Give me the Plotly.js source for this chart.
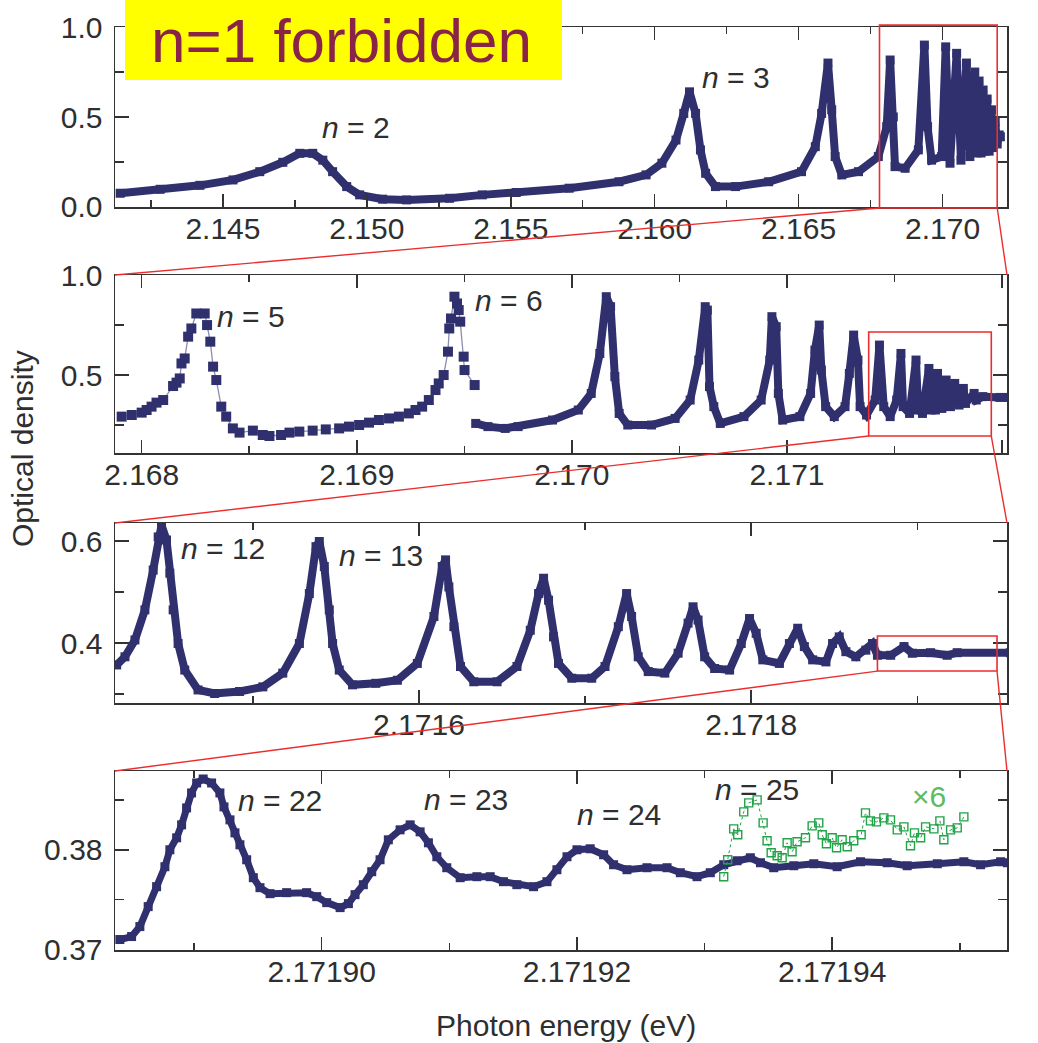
<!DOCTYPE html>
<html><head><meta charset="utf-8">
<script src="https://cdn.plot.ly/plotly-3.0.1.min.js"></script>
<style>html,body{margin:0;padding:0;background:#fff}#chart{width:1038px;height:1043px}</style>
</head><body><div id="chart"></div>
<script>
// ---------- data ----------
const p1Energy = [2.14143,2.14282,2.1442,2.14535,2.14628,2.14708,2.14767,2.14812,2.14847,2.14881,2.1493,2.14975,2.15055,2.15138,2.15287,2.15401,2.15519,2.15703,2.15876,2.1597,2.16025,2.16074,2.16101,2.16121,2.16142,2.16159,2.16177,2.16211,2.16281,2.16396,2.1651,2.16558,2.1658,2.16602,2.16615,2.16627,2.1665,2.16708,2.16777,2.16806,2.16818,2.16829,2.16835,2.1687,2.16916,2.16937,2.16948,2.16962,2.16997,2.17011,2.17026,2.17049,2.17064,2.17083,2.17095,2.17112,2.1712,2.17127,2.17134,2.17141,2.17148,2.17155,2.17162,2.1717,2.17176,2.17183,2.1719,2.17197,2.17201];
const p1OD = [0.076,0.098,0.12,0.15,0.196,0.248,0.298,0.298,0.26,0.196,0.113,0.067,0.043,0.039,0.048,0.067,0.08,0.104,0.14,0.178,0.243,0.372,0.52,0.64,0.52,0.317,0.187,0.113,0.113,0.14,0.196,0.335,0.52,0.80,0.54,0.28,0.178,0.196,0.28,0.446,0.817,0.50,0.224,0.215,0.317,0.90,0.446,0.26,0.28,0.89,0.243,0.854,0.26,0.80,0.28,0.75,0.30,0.70,0.30,0.65,0.31,0.60,0.31,0.54,0.33,0.47,0.35,0.40,0.39];

const p2SparseEnergy = [2.167907,2.167954,2.168000,2.168023,2.168046,2.168069,2.168100,2.168146,2.168162,2.168177,2.168185,2.168200,2.168216,2.168231,2.168254,2.168293,2.168304,2.168319,2.168332,2.168347,2.168370,2.168393,2.168424,2.168455,2.168517,2.168563,2.168594,2.168648,2.168687,2.168733,2.168795,2.168856,2.168918,2.168964,2.169011,2.169057,2.169103,2.169150,2.169196,2.169242,2.169273,2.169304,2.169335,2.169366,2.169381,2.169404,2.169424,2.169430,2.169438,2.169454,2.169466,2.169474,2.169481,2.169497,2.169501,2.169548];
const p2SparseOD = [0.292,0.30,0.312,0.325,0.342,0.362,0.375,0.445,0.462,0.483,0.558,0.583,0.692,0.733,0.808,0.808,0.75,0.667,0.542,0.475,0.342,0.292,0.233,0.212,0.222,0.20,0.195,0.20,0.212,0.217,0.222,0.228,0.233,0.242,0.25,0.262,0.275,0.283,0.292,0.308,0.325,0.342,0.375,0.425,0.458,0.50,0.617,0.733,0.783,0.892,0.858,0.825,0.767,0.592,0.525,0.45];

const p2DenseEnergy = [2.169553,2.16961,2.16969,2.16975,2.16991,2.17003,2.17009,2.17013,2.17016,2.17018,2.1702,2.17022,2.17026,2.17037,2.17048,2.17055,2.17059,2.17062,2.17063,2.17064,2.17066,2.17069,2.1708,2.17088,2.17092,2.17093,2.17095,2.17096,2.17098,2.17106,2.17111,2.17113,2.17115,2.17116,2.17118,2.17122,2.17127,2.17129,2.17131,2.17133,2.17134,2.17137,2.17141,2.17143,2.17145,2.17148,2.17151,2.17153,2.17154,2.17157,2.1716,2.17161,2.17163,2.17166,2.17167,2.17169,2.1717,2.17172,2.17174,2.17176,2.17178,2.1718,2.17182,2.17183,2.17187,2.17188,2.17191,2.17199,2.17203];
const p2DenseOD = [0.258,0.242,0.233,0.242,0.275,0.325,0.408,0.608,0.892,0.842,0.492,0.308,0.25,0.25,0.283,0.375,0.575,0.842,0.825,0.442,0.342,0.258,0.292,0.375,0.575,0.792,0.742,0.408,0.275,0.292,0.408,0.625,0.75,0.525,0.342,0.292,0.342,0.508,0.70,0.575,0.342,0.30,0.375,0.65,0.342,0.292,0.375,0.608,0.342,0.308,0.575,0.325,0.308,0.533,0.325,0.325,0.508,0.333,0.475,0.342,0.458,0.35,0.433,0.358,0.408,0.375,0.392,0.388,0.388];

const p3Energy = [2.171418,2.171423,2.171429,2.171435,2.17144,2.171443,2.171445,2.171448,2.17145,2.171452,2.171455,2.171459,2.171467,2.171477,2.171492,2.171506,2.171518,2.171528,2.171534,2.171538,2.17154,2.171543,2.171546,2.171548,2.171552,2.17156,2.171574,2.171587,2.171599,2.171609,2.171614,2.171616,2.171618,2.171621,2.171625,2.171633,2.171647,2.171659,2.171667,2.171672,2.171675,2.171678,2.171681,2.171684,2.171692,2.171704,2.171712,2.17172,2.171725,2.171728,2.171732,2.171738,2.171748,2.171756,2.171762,2.171765,2.171768,2.171772,2.171778,2.171787,2.171794,2.171799,2.171803,2.171807,2.171817,2.171823,2.171828,2.171832,2.171837,2.171845,2.171849,2.171853,2.171857,2.171863,2.171869,2.171873,2.171876,2.171884,2.171892,2.171897,2.171908,2.171918,2.171924,2.171956];
const p3OD = [0.357,0.373,0.406,0.465,0.543,0.608,0.631,0.602,0.537,0.465,0.399,0.347,0.308,0.301,0.305,0.314,0.341,0.399,0.497,0.589,0.599,0.55,0.465,0.399,0.347,0.318,0.321,0.327,0.36,0.452,0.55,0.563,0.51,0.432,0.354,0.324,0.324,0.354,0.425,0.497,0.527,0.484,0.412,0.36,0.331,0.331,0.354,0.432,0.497,0.452,0.373,0.344,0.341,0.38,0.439,0.471,0.445,0.373,0.35,0.347,0.399,0.448,0.419,0.367,0.36,0.399,0.429,0.393,0.367,0.363,0.399,0.412,0.383,0.373,0.386,0.399,0.376,0.376,0.393,0.38,0.381,0.376,0.381,0.381];

const p4Energy = [2.17188418,2.1718851,2.17188575,2.1718864,2.17188706,2.17188771,2.1718881,2.17188863,2.17188902,2.17188941,2.1718898,2.1718902,2.17189071,2.17189137,2.17189202,2.17189234,2.17189281,2.1718932,2.17189359,2.17189412,2.17189464,2.17189516,2.17189595,2.17189725,2.17189882,2.17189961,2.17190039,2.17190144,2.17190209,2.17190261,2.17190326,2.17190392,2.17190457,2.17190522,2.17190614,2.17190693,2.17190771,2.17190836,2.17190902,2.1719098,2.17191085,2.17191216,2.1719132,2.17191424,2.17191529,2.1719166,2.17191765,2.17191843,2.17191922,2.17192,2.17192104,2.17192209,2.17192287,2.17192392,2.17192549,2.17192706,2.1719281,2.17192941,2.17193045,2.1719315,2.17193255,2.17193359,2.17193438,2.17193542,2.17193699,2.17193856,2.17194039,2.17194222,2.17194431,2.17194588,2.17194824,2.17195032,2.17195163,2.1719532,2.17195373];
const p4OD = [0.371,0.3713,0.3723,0.3743,0.3763,0.3783,0.38,0.3812,0.3825,0.3842,0.3857,0.3867,0.3871,0.3867,0.3857,0.3843,0.383,0.3817,0.3805,0.379,0.3772,0.3762,0.3756,0.3757,0.3757,0.3753,0.3747,0.3742,0.3746,0.3755,0.3765,0.3778,0.379,0.381,0.382,0.3825,0.3818,0.3807,0.3793,0.3782,0.3772,0.3773,0.3773,0.3768,0.3765,0.3763,0.3768,0.378,0.3793,0.38,0.3801,0.3795,0.3785,0.378,0.3782,0.3782,0.3777,0.3773,0.3777,0.3785,0.3789,0.3792,0.3787,0.3782,0.3784,0.3786,0.3783,0.3788,0.3787,0.3784,0.3786,0.3788,0.3785,0.3788,0.3787];

const p4x6Energy = [2.1719315,2.17193181,2.17193228,2.1719326,2.17193307,2.17193346,2.17193412,2.17193459,2.1719349,2.17193522,2.17193569,2.17193608,2.17193647,2.17193686,2.17193725,2.17193791,2.17193843,2.17193895,2.17193922,2.17193955,2.17194,2.17194034,2.17194078,2.17194118,2.17194169,2.17194227,2.17194261,2.171943,2.17194347,2.17194405,2.17194457,2.1719451,2.17194562,2.17194614,2.17194645,2.17194693,2.17194732,2.17194797,2.17194844,2.17194875,2.17194928,2.1719498,2.17195032];
const p4x6OD = [0.3773,0.379,0.3821,0.3815,0.3838,0.3847,0.385,0.3827,0.3809,0.3797,0.3794,0.3792,0.3807,0.3798,0.3808,0.3812,0.3824,0.3827,0.3815,0.3806,0.3812,0.3802,0.381,0.3803,0.3809,0.3815,0.3837,0.3829,0.3828,0.3832,0.383,0.382,0.3823,0.3804,0.3817,0.3812,0.3823,0.3821,0.3829,0.381,0.382,0.3822,0.3833];

// tick values / labels
const x1TickVals = [2.145,2.150,2.155,2.160,2.165,2.170];
const x1TickText = ['2.145','2.150','2.155','2.160','2.165','2.170'];
const x1MinorVals = [2.1425,2.1475,2.1525,2.1575,2.1625,2.1675,2.1725];
const x2TickVals = [2.168,2.169,2.170,2.171,2.172];
const x2TickText = ['2.168','2.169','2.170','2.171','2.172'];
const x2MinorVals = [2.1685,2.1695,2.1705,2.1715];
const x3TickVals = [2.1716,2.1718];
const x3TickText = ['2.1716','2.1718'];
const x3MinorVals = [2.1715,2.1717,2.1719];
const x4TickVals = [2.1719,2.17192,2.17194];
const x4TickText = ['2.17190','2.17192','2.17194'];
const x4MinorVals = [2.17189,2.17191,2.17193,2.17195];
const y1TickVals = [0,0.5,1.0]; const y1TickText = ['0.0','0.5','1.0']; const y1MinorVals = [0.25,0.75];
const y2TickVals = [0.5,1.0]; const y2TickText = ['0.5','1.0']; const y2MinorVals = [0.25,0.75];
const y3TickVals = [0.4,0.6]; const y3TickText = ['0.4','0.6']; const y3MinorVals = [0.3,0.5];
const y4TickVals = [0.37,0.38]; const y4TickText = ['0.37','0.38']; const y4MinorVals = [0.375,0.385];

const peakLabels = [
  {panel:0, text:'<i>n</i> = 2', x:2.14964, y:0.444},
  {panel:0, text:'<i>n</i> = 3', x:2.16282, y:0.722},
  {panel:1, text:'<i>n</i> = 5', x:2.16851, y:0.795},
  {panel:1, text:'<i>n</i> = 6', x:2.16971, y:0.875},
  {panel:2, text:'<i>n</i> = 12', x:2.171482, y:0.586},
  {panel:2, text:'<i>n</i> = 13', x:2.171577, y:0.571},
  {panel:3, text:'<i>n</i> = 22', x:2.17189673, y:0.3849},
  {panel:3, text:'<i>n</i> = 23', x:2.17191132, y:0.385},
  {panel:3, text:'<i>n</i> = 24', x:2.17192332, y:0.3835},
  {panel:3, text:'<i>n</i> = 25', x:2.17193414, y:0.386}
];

// ---------- layout geometry ----------
const W = 1038, H = 1043;
const X_DOMAIN = [115/W, 1007/W];
const Y_DOMAINS = [[1-207/H,1-27/H],[1-453/H,1-275/H],[1-703/H,1-523/H],[1-950/H,1-771/H]];
const X_RANGES = [[2.14125,2.17224],[2.167876,2.172023],[2.171417,2.171954],[2.1718838,2.1719537]];
const Y_RANGES = [[-0.0005,1.0005],[0.11,1.0005],[0.2824,0.6353],[0.36995,0.3879]];
const ZOOM_BOXES = [
  {panel:0, x:[2.16781,2.1719], y:[-0.006,1.011]},
  {panel:1, x:[2.17138,2.17195], y:[0.195,0.715]},
  {panel:2, x:[2.171876,2.171948], y:[0.345,0.4137]}
];

const NAVY = '#30306e';
const GREEN = '#21a348';
const RED = 'rgb(235,45,45)';
const FONT = 'Liberation Sans, Arial, Helvetica, sans-serif';
const TXT = '#2f2f2f';

function px(i,v){const r=X_RANGES[i];return X_DOMAIN[0]+(v-r[0])/(r[1]-r[0])*(X_DOMAIN[1]-X_DOMAIN[0]);}
function py(i,v){const r=Y_RANGES[i],d=Y_DOMAINS[i];return d[0]+(v-r[0])/(r[1]-r[0])*(d[1]-d[0]);}

const navyDense = (x,y,xa,ya,w,ms)=>({x,y,xaxis:xa,yaxis:ya,type:'scatter',mode:'lines+markers',
  line:{color:NAVY,width:w},marker:{symbol:'square',size:ms,color:NAVY},hoverinfo:'skip',showlegend:false});

const traces = [
  navyDense(p1Energy,p1OD,'x','y',8,9),
  {x:p2SparseEnergy,y:p2SparseOD,xaxis:'x2',yaxis:'y2',type:'scatter',mode:'lines+markers',
   line:{color:'rgba(48,48,110,0.55)',width:1.3},marker:{symbol:'square',size:10,color:NAVY},showlegend:false},
  navyDense(p2DenseEnergy,p2DenseOD,'x2','y2',8,9),
  navyDense(p3Energy,p3OD,'x3','y3',8,9),
  navyDense(p4Energy,p4OD,'x4','y4',7,9),
  {x:p4x6Energy,y:p4x6OD,xaxis:'x4',yaxis:'y4',type:'scatter',mode:'lines+markers',
   line:{color:GREEN,width:1,dash:'dot'},marker:{symbol:'square-open',size:8,color:GREEN,line:{width:1.4,color:GREEN}},showlegend:false}
];

const tickFont = {family:FONT,size:30,color:TXT};
function xAxis(i,vals,text,minor){
  return {domain:X_DOMAIN,range:X_RANGES[i],anchor:i?('y'+(i+1)):'y',tickmode:'array',tickvals:vals,ticktext:text,
    ticks:'inside',ticklen:13,tickwidth:1.5,tickcolor:'#333',showline:true,linecolor:'#333',linewidth:1.5,mirror:'ticks',
    showgrid:false,zeroline:false,tickfont:tickFont,ticklabelstandoff:-6,fixedrange:true,
    minor:{tickmode:'array',tickvals:minor,ticks:'inside',ticklen:7,tickwidth:1.5,tickcolor:'#333',showgrid:false}};
}
function yAxis(i,vals,text,minor){
  return {domain:Y_DOMAINS[i],range:Y_RANGES[i],anchor:i?('x'+(i+1)):'x',tickmode:'array',tickvals:vals,ticktext:text,
    ticks:'inside',ticklen:14,tickwidth:1.5,tickcolor:'#333',showline:true,linecolor:'#333',linewidth:1.5,mirror:'ticks',
    showgrid:false,zeroline:false,tickfont:tickFont,ticklabelstandoff:5,fixedrange:true,
    minor:{tickmode:'array',tickvals:minor,ticks:'inside',ticklen:9,tickwidth:1.5,tickcolor:'#333',showgrid:false}};
}

const shapes = [];
ZOOM_BOXES.forEach(b=>{
  const i=b.panel;
  const x0=px(i,b.x[0]),x1=px(i,b.x[1]),y0=py(i,b.y[0]),y1=py(i,b.y[1]);
  shapes.push({type:'rect',xref:'paper',yref:'paper',x0,x1,y0,y1,line:{color:RED,width:1.6},layer:'above'});
  const nextTop=Y_DOMAINS[i+1][1];
  shapes.push({type:'line',xref:'paper',yref:'paper',x0:x0,y0:y0,x1:X_DOMAIN[0],y1:nextTop,line:{color:RED,width:1.4},layer:'above'});
  shapes.push({type:'line',xref:'paper',yref:'paper',x0:x1,y0:y0,x1:X_DOMAIN[1],y1:nextTop,line:{color:RED,width:1.4},layer:'above'});
});
shapes.push({type:'rect',xref:'paper',yref:'paper',x0:125/W,x1:562/W,y0:1-80/H,y1:1.01,fillcolor:'#ffff00',line:{width:0},layer:'above'});

const annFont = {family:FONT,size:30,color:TXT};
const annotations = peakLabels.map(l=>({xref:l.panel?'x'+(l.panel+1):'x',yref:l.panel?'y'+(l.panel+1):'y',x:l.x,y:l.y,
  text:l.text,showarrow:false,xanchor:'center',yanchor:'middle',font:annFont}));
annotations.push({xref:'x4',yref:'y4',x:2.17194755,y:0.3853,text:'×6',showarrow:false,font:{family:FONT,size:30,color:'#5dbb63'}});
annotations.push({xref:'paper',yref:'paper',x:341/W,y:1-40/H,text:'n=1 forbidden',showarrow:false,xanchor:'center',yanchor:'middle',
  font:{family:FONT,size:62,color:'#8a2348'}});
annotations.push({xref:'paper',yref:'paper',x:22/W,y:1-449/H,text:'Optical density',textangle:-90,showarrow:false,xanchor:'center',yanchor:'middle',font:annFont});
annotations.push({xref:'paper',yref:'paper',x:566/W,y:1-1025/H,text:'Photon energy (eV)',showarrow:false,xanchor:'center',yanchor:'middle',font:annFont});

const layout = {
  width:W,height:H,margin:{l:0,r:0,t:0,b:0},paper_bgcolor:'#fff',plot_bgcolor:'rgba(0,0,0,0)',showlegend:false,
  xaxis:xAxis(0,x1TickVals,x1TickText,x1MinorVals),
  xaxis2:xAxis(1,x2TickVals,x2TickText,x2MinorVals),
  xaxis3:xAxis(2,x3TickVals,x3TickText,x3MinorVals),
  xaxis4:xAxis(3,x4TickVals,x4TickText,x4MinorVals),
  yaxis:yAxis(0,y1TickVals,y1TickText,y1MinorVals),
  yaxis2:yAxis(1,y2TickVals,y2TickText,y2MinorVals),
  yaxis3:yAxis(2,y3TickVals,y3TickText,y3MinorVals),
  yaxis4:yAxis(3,y4TickVals,y4TickText,y4MinorVals),
  shapes,annotations
};
Plotly.newPlot('chart',traces,layout,{displayModeBar:false,staticPlot:true});
</script></body></html>
